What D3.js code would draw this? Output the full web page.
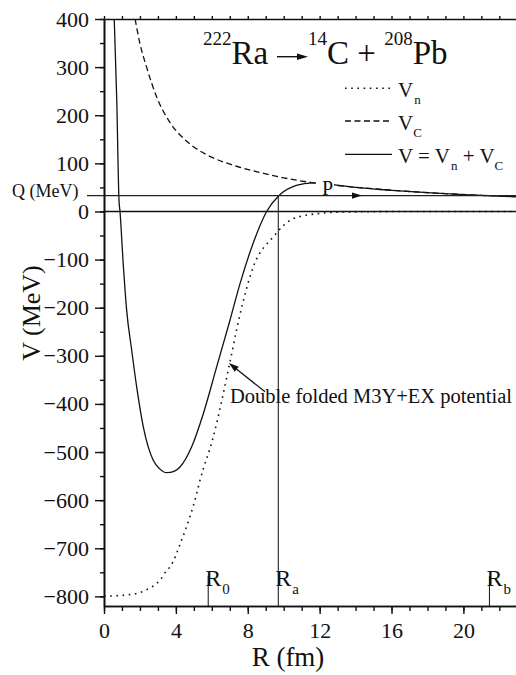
<!DOCTYPE html>
<html>
<head>
<meta charset="utf-8">
<script src="https://cdn.jsdelivr.net/npm/d3@7"></script>
<style>
  body { margin: 0; background: #fff; }
  svg { display: block; }
  svg text { font-family: "Liberation Serif", Tinos, "Times New Roman", Times, "DejaVu Serif", serif; fill: #111; }
</style>
</head>
<body>
<svg id="chart" width="516" height="675"></svg>
<script>
// nuclear potential V_n (dotted)
const rVn = [0, 0.5, 1.26, 2.0, 2.37, 3.12, 3.49, 3.67, 4.32, 5.16, 5.34, 6.08, 6.97, 7.52, 8.31, 9.42, 10.53, 12, 13, 15, 18, 23]
const vnValues = [-800, -799, -797, -792, -786, -766, -746, -739, -683, -586, -559, -469, -320, -222, -115, -53, -15, -4, -1.5, -0.5, 0, 0]

// coulomb potential V_C (dashed)
const rVc = [1.73, 2.0, 2.37, 2.93, 3.67, 4.6, 5.71, 7.2, 8.68, 10, 11.56, 13, 15, 17, 19, 21, 23]
const vcValues = [400, 349, 300, 238, 185, 146, 118, 96, 81, 70, 60, 54, 47, 41.5, 37, 33.5, 30.5]

// total V = V_n + V_C (solid)
const rV = [0.57, 0.71, 0.835, 0.89, 1.08, 1.26, 1.54, 1.82, 2.19, 2.74, 3.1, 3.49, 3.9, 4.23, 4.88, 5.53, 6.27, 7.01, 7.57, 8.31, 9.05, 9.74, 10.7, 11.6, 12.5, 14, 16, 18, 20, 23]
const vValues = [400, 231, 23, 0, -115, -205, -288, -365, -448, -517, -535, -543, -540, -531, -489, -420, -323, -226, -150, -65, 0, 33, 54, 59.5, 57, 50, 44, 39, 35, 30.5]

const qValue = 33
const radiusMarks = [5.8, 9.7, 21.45]
const radiusNames = ['0', 'a', 'b']

const xTicks = [0, 4, 8, 12, 16, 20]
const xMinor = d3.range(0, 24, 1)
const yTicks = d3.range(-800, 401, 100)
const yMinor = d3.range(-800, 401, 50)

const width = 516
const height = 675
const marginLeft = 104
const marginTop = 19
const plotBottom = 606

const svg = d3.select('#chart')
svg.append('rect').attr('width', width).attr('height', height).attr('fill', '#fff')

const x = d3.scaleLinear().domain([0, 23]).range([marginLeft, marginLeft + 23 * 17.97])
const y = d3.scaleLinear().domain([-820, 400]).range([plotBottom, marginTop])

svg.append('defs').append('clipPath').attr('id', 'clip')
  .append('rect')
    .attr('x', x(0)).attr('y', y(400))
    .attr('width', x(23) - x(0)).attr('height', y(-820) - y(400))

const line = d3.line()
    .x(d => x(d[0]))
    .y(d => y(d[1]))
    .curve(d3.curveMonotoneX)

const curves = svg.append('g').attr('clip-path', 'url(#clip)')

curves.append('path')
    .datum(d3.zip(rVn, vnValues))
    .attr('d', line)
    .attr('fill', 'none')
    .attr('stroke', '#111')
    .attr('stroke-width', 1.6)
    .attr('stroke-dasharray', '1.6 4.6')

curves.append('path')
    .datum(d3.zip(rVc, vcValues))
    .attr('d', line)
    .attr('fill', 'none')
    .attr('stroke', '#111')
    .attr('stroke-width', 1.3)
    .attr('stroke-dasharray', '6 3.5')

curves.append('path')
    .datum(d3.zip(rV, vValues))
    .attr('d', line)
    .attr('fill', 'none')
    .attr('stroke', '#111')
    .attr('stroke-width', 1.3)

// white patch behind P
svg.append('rect')
    .attr('x', 316).attr('y', 178)
    .attr('width', 18).attr('height', 15.5)
    .attr('fill', '#fff')

// Q and zero lines
svg.append('line')
    .attr('x1', 87).attr('x2', width)
    .attr('y1', y(qValue)).attr('y2', y(qValue))
    .attr('stroke', '#222').attr('stroke-width', 1.1)

svg.append('line')
    .attr('x1', x(0)).attr('x2', width)
    .attr('y1', y(0)).attr('y2', y(0))
    .attr('stroke', '#111').attr('stroke-width', 1.6)

// arrow head on Q line
svg.append('path')
    .attr('d', `M${352},${y(qValue) - 3.2}L${362},${y(qValue)}L${352},${y(qValue) + 3.2}Z`)
    .attr('fill', '#111')

svg.append('text')
    .attr('x', 322).attr('y', 195)
    .attr('font-size', 20)
    .text('P')

svg.append('text')
    .attr('x', 12).attr('y', 197)
    .attr('font-size', 18)
    .text('Q (MeV)')

// radius markers
radiusMarks.forEach((r, i) => {
  const top = i === 1 ? y(qValue) : plotBottom - 30
  svg.append('line')
      .attr('x1', x(r)).attr('x2', x(r))
      .attr('y1', plotBottom).attr('y2', top)
      .attr('stroke', '#222').attr('stroke-width', 1.1)
  const t = svg.append('text')
      .attr('x', x(r) - 3).attr('y', 586)
      .attr('font-size', 24)
  t.append('tspan').text('R')
  t.append('tspan').attr('font-size', 15).attr('dy', 8).attr('dx', 1).text(radiusNames[i])
})

// axes
const axisStyle = g => {
  g.attr('font-family', null)
  g.selectAll('path').attr('stroke', '#111').attr('stroke-width', 1.6)
  g.selectAll('line').attr('stroke', '#111').attr('stroke-width', 1.4)
  g.selectAll('text').attr('font-size', 22).attr('fill', '#111')
}

svg.append('g')
    .attr('transform', `translate(${x(0)},0)`)
    .call(d3.axisLeft(y).tickValues(yMinor).tickSize(4).tickSizeOuter(0).tickFormat(''))
    .call(axisStyle)

svg.append('g')
    .attr('transform', `translate(${x(0)},0)`)
    .call(d3.axisLeft(y).tickValues(yTicks).tickSize(9).tickSizeOuter(0).tickPadding(6))
    .call(axisStyle)

svg.append('g')
    .attr('transform', `translate(0,${plotBottom})`)
    .call(d3.axisBottom(x).tickValues(xMinor).tickSize(5).tickSizeOuter(0).tickFormat(''))
    .call(axisStyle)

svg.append('g')
    .attr('transform', `translate(0,${plotBottom})`)
    .call(d3.axisBottom(x).tickValues(xTicks).tickSize(8).tickSizeOuter(0).tickPadding(8))
    .call(axisStyle)

svg.append('g')
    .attr('transform', `translate(0,${marginTop})`)
    .call(d3.axisTop(x).tickValues(xMinor).tickSize(3).tickSizeOuter(0).tickFormat(''))
    .call(axisStyle)

svg.append('text')
    .attr('x', 288).attr('y', 666)
    .attr('text-anchor', 'middle')
    .attr('font-size', 27)
    .text('R (fm)')

svg.append('text')
    .attr('transform', 'translate(40,313) rotate(-90)')
    .attr('text-anchor', 'middle')
    .attr('font-size', 26)
    .text('V (MeV)')

// title
const t1 = svg.append('text')
    .attr('x', 203).attr('y', 64)
    .attr('font-size', 33)
t1.append('tspan').attr('font-size', 19).attr('dy', -19).text('222')
t1.append('tspan').attr('dy', 19).text('Ra')

svg.append('line')
    .attr('x1', 277).attr('x2', 300)
    .attr('y1', 56.7).attr('y2', 56.7)
    .attr('stroke', '#111').attr('stroke-width', 1.4)
svg.append('path')
    .attr('d', 'M297,53.5L308,56.7L297,59.9Z')
    .attr('fill', '#111')

const t2 = svg.append('text')
    .attr('x', 308).attr('y', 64)
    .attr('font-size', 33)
t2.append('tspan').attr('font-size', 19).attr('dy', -19).text('14')
t2.append('tspan').attr('dy', 19).text('C + ')
t2.append('tspan').attr('font-size', 19).attr('dy', -19).text('208')
t2.append('tspan').attr('dy', 19).text('Pb')

// legend
const legendRows = [
  { y: 88.3, dash: '1.6 4.6', w: 1.6 },
  { y: 121, dash: '6 3.5', w: 1.3 },
  { y: 154.3, dash: null, w: 1.3 }
]
legendRows.forEach(row => {
  svg.append('line')
      .attr('x1', 345).attr('x2', 392)
      .attr('y1', row.y).attr('y2', row.y)
      .attr('stroke', '#111').attr('stroke-width', row.w)
      .attr('stroke-dasharray', row.dash)
})

const l1 = svg.append('text').attr('x', 398).attr('y', 96.8).attr('font-size', 21)
l1.append('tspan').text('V')
l1.append('tspan').attr('font-size', 13).attr('dy', 7).attr('dx', 1).text('n')

const l2 = svg.append('text').attr('x', 398).attr('y', 129.5).attr('font-size', 21)
l2.append('tspan').text('V')
l2.append('tspan').attr('font-size', 13).attr('dy', 7).text('C')

const l3 = svg.append('text').attr('x', 398).attr('y', 162.8).attr('font-size', 21)
l3.append('tspan').text('V = V')
l3.append('tspan').attr('font-size', 13).attr('dy', 7).attr('dx', 1).text('n')
l3.append('tspan').attr('dy', -7).text(' + V')
l3.append('tspan').attr('font-size', 13).attr('dy', 7).text('C')

// annotation
const tipX = x(6.95), tipY = y(-315)
const tailX = 265, tailY = 391.7
const ang = Math.atan2(tipY - tailY, tipX - tailX)
svg.append('line')
    .attr('x1', tailX).attr('y1', tailY)
    .attr('x2', tipX - 8 * Math.cos(ang)).attr('y2', tipY - 8 * Math.sin(ang))
    .attr('stroke', '#111').attr('stroke-width', 1.3)
svg.append('path')
    .attr('d', `M${tipX},${tipY}` +
      `L${tipX - 10 * Math.cos(ang) + 3.3 * Math.sin(ang)},${tipY - 10 * Math.sin(ang) - 3.3 * Math.cos(ang)}` +
      `L${tipX - 10 * Math.cos(ang) - 3.3 * Math.sin(ang)},${tipY - 10 * Math.sin(ang) + 3.3 * Math.cos(ang)}Z`)
    .attr('fill', '#111')

svg.append('text')
    .attr('x', 230).attr('y', 403)
    .attr('font-size', 20.5)
    .text('Double folded M3Y+EX potential')
</script>
</body>
</html>
